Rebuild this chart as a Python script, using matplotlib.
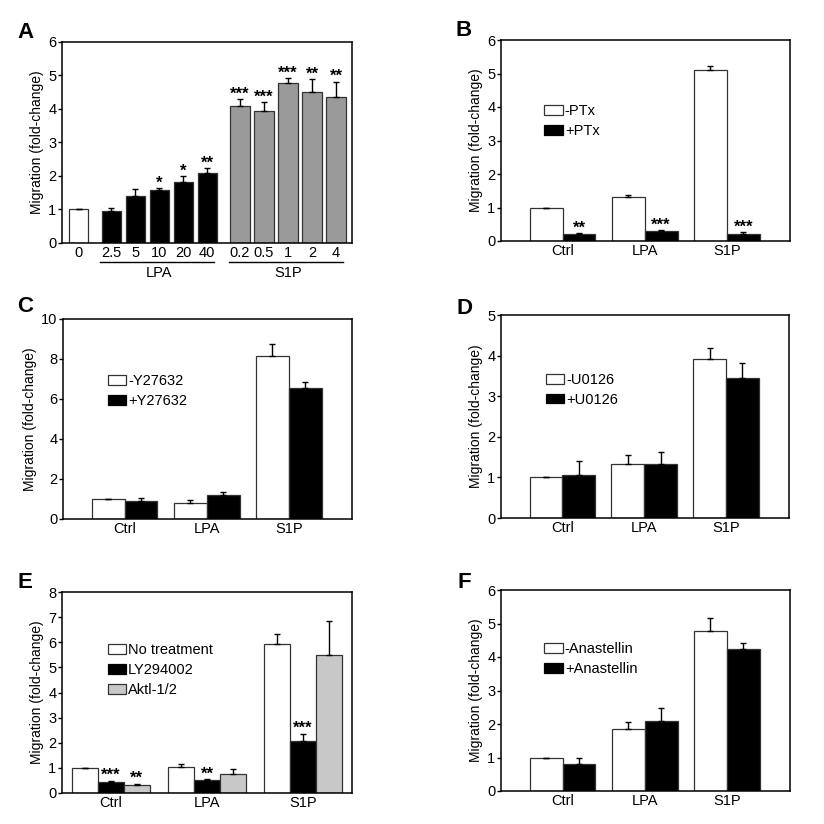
import matplotlib
matplotlib.use("Agg")
import matplotlib.pyplot as plt
import numpy as np
from matplotlib.patches import Patch

plt.rcParams['font.family'] = ['Liberation Sans', 'DejaVu Sans']
plt.rcParams['font.size'] = 9

# ---------------- Data ----------------
# Panel A
a_labels = ["0", "2.5", "5", "10", "20", "40", "0.2", "0.5", "1", "2", "4"]
a_values = [1.0, 0.95, 1.40, 1.58, 1.83, 2.10, 4.08, 3.95, 4.78, 4.50, 4.37]
a_errors = [0.0, 0.08, 0.20, 0.07, 0.17, 0.13, 0.22, 0.25, 0.14, 0.40, 0.45]
a_stars = ["", "", "", "*", "*", "**", "***", "***", "***", "**", "**"]
a_groups = ["ctrl", "LPA", "LPA", "LPA", "LPA", "LPA", "S1P", "S1P", "S1P", "S1P", "S1P"]

groups = ["Ctrl", "LPA", "S1P"]

# Panel B
b_minus = [1.0, 1.30, 5.10]
b_minus_err = [0.0, 0.08, 0.12]
b_plus = [0.20, 0.30, 0.22]
b_plus_err = [0.03, 0.03, 0.05]
b_plus_stars = ["**", "***", "***"]

# Panel C
c_minus = [1.0, 0.78, 8.15]
c_minus_err = [0.0, 0.17, 0.60]
c_plus = [0.92, 1.22, 6.55]
c_plus_err = [0.13, 0.12, 0.30]

# Panel D
d_minus = [1.0, 1.32, 3.92]
d_minus_err = [0.0, 0.22, 0.27]
d_plus = [1.05, 1.32, 3.45]
d_plus_err = [0.35, 0.30, 0.38]

# Panel E
e_none = [1.0, 1.02, 5.92]
e_none_err = [0.0, 0.13, 0.42]
e_ly = [0.45, 0.50, 2.08]
e_ly_err = [0.04, 0.05, 0.28]
e_akt = [0.30, 0.75, 5.48]
e_akt_err = [0.07, 0.20, 1.38]
e_ly_stars = ["***", "**", "***"]
e_akt_stars = ["**", "", ""]

# Panel F
f_minus = [1.0, 1.85, 4.78]
f_minus_err = [0.0, 0.20, 0.38]
f_plus = [0.82, 2.10, 4.23]
f_plus_err = [0.18, 0.38, 0.18]

W = H = 824
fig = plt.figure(figsize=(8.24, 8.24), dpi=100)

TICK_FS = 10.5
LEG_FS = 10.5


def add_ax(l, t, r, b):
    return fig.add_axes([l / W, 1 - b / H, (r - l) / W, (b - t) / H])


def style(ax, ymax, step):
    ax.set_ylim(0, ymax)
    ax.set_yticks(np.arange(0, ymax + 0.01, step))
    ax.set_yticklabels([f"{int(v)}" for v in np.arange(0, ymax + 0.01, step)])
    for s in ax.spines.values():
        s.set_linewidth(1.1)
    ax.tick_params(axis='y', direction='out', length=3, width=1, labelsize=TICK_FS, pad=1)
    ax.tick_params(axis='x', length=0, labelsize=TICK_FS, pad=2)
    ax.set_ylabel("Migration (fold-change)", fontsize=10, labelpad=3)


EKW = dict(elinewidth=1.0, capsize=2.5, capthick=1.0, ecolor='black')


def bars(ax, x, vals, errs, color, width):
    ax.bar(x, vals, width, color=color, edgecolor='#333333', linewidth=0.9,
           yerr=[np.zeros(len(errs)), errs], error_kw=EKW, zorder=2)


def stars(ax, x, vals, errs, labels, off):
    for xi, v, e, s in zip(x, vals, errs, labels):
        if s:
            ax.text(xi, v + e + off, s, ha='center', va='bottom', fontsize=12,
                    fontweight='bold')


def two_group(ax, minus, minus_err, plus, plus_err, lab_minus, lab_plus, ymax, step,
              leg_anchor):
    x = np.arange(len(groups))
    w = 0.4
    bars(ax, x - w / 2, minus, minus_err, 'white', w)
    bars(ax, x + w / 2, plus, plus_err, 'black', w)
    ax.set_xlim(-0.75, 2.77)
    ax.set_xticks(x)
    ax.set_xticklabels(groups)
    style(ax, ymax, step)
    handles = [Patch(facecolor='white', edgecolor='#333333', linewidth=0.9, label=lab_minus),
               Patch(facecolor='black', edgecolor='black', linewidth=0.9, label=lab_plus)]
    ax.legend(handles=handles, loc='upper left', bbox_to_anchor=leg_anchor, frameon=False,
              fontsize=LEG_FS, handlelength=1.25, handleheight=0.65, handletextpad=0.15,
              labelspacing=0.4, borderpad=0, borderaxespad=0)
    return x, w


# ---------- Panel A ----------
axA = add_ax(62, 42, 352, 243)
xa = np.array([0, 1.35, 2.35, 3.35, 4.35, 5.35, 6.72, 7.72, 8.72, 9.72, 10.72])
colA = {'ctrl': 'white', 'LPA': 'black', 'S1P': '#9a9a9a'}
for xi, v, e, g in zip(xa, a_values, a_errors, a_groups):
    bars(axA, [xi], [v], [e], colA[g], 0.8)
stars(axA, xa, a_values, a_errors, a_stars, -0.08)
axA.set_xlim(-0.7, 11.39)
axA.set_xticks(xa)
axA.set_xticklabels(a_labels)
style(axA, 6, 1)
trans = axA.get_xaxis_transform()
lpa_x = xa[[i for i, g in enumerate(a_groups) if g == 'LPA']]
s1p_x = xa[[i for i, g in enumerate(a_groups) if g == 'S1P']]
for xs, name in [(lpa_x, 'LPA'), (s1p_x, 'S1P')]:
    axA.plot([xs[0] - 0.45, xs[-1] + 0.3], [-0.095, -0.095], transform=trans,
             color='black', lw=1.0, clip_on=False)
    axA.text((xs[0] + xs[-1]) / 2, -0.112, name, transform=trans, ha='center', va='top',
             fontsize=TICK_FS)

# ---------- Panel B ----------
axB = add_ax(501, 40, 790, 241)
x, w = two_group(axB, b_minus, b_minus_err, b_plus, b_plus_err, '-PTx', '+PTx', 6, 1,
                 (0.15, 0.68))
stars(axB, x + w / 2, b_plus, b_plus_err, b_plus_stars, -0.08)

# ---------- Panel C ----------
axC = add_ax(63, 319, 352, 519)
two_group(axC, c_minus, c_minus_err, c_plus, c_plus_err, '-Y27632', '+Y27632', 10, 2,
          (0.155, 0.725))

# ---------- Panel D ----------
axD = add_ax(501, 315, 789, 518)
two_group(axD, d_minus, d_minus_err, d_plus, d_plus_err, '-U0126', '+U0126', 5, 1,
          (0.155, 0.715))

# ---------- Panel E ----------
axE = add_ax(62, 592, 352, 793)
xe = np.arange(len(groups))
we = 0.27
bars(axE, xe - we, e_none, e_none_err, 'white', we)
bars(axE, xe, e_ly, e_ly_err, 'black', we)
bars(axE, xe + we, e_akt, e_akt_err, '#c8c8c8', we)
stars(axE, xe, e_ly, e_ly_err, e_ly_stars, -0.1)
stars(axE, xe + we, e_akt, e_akt_err, e_akt_stars, -0.1)
axE.set_xlim(-0.51, 2.51)
axE.set_xticks(xe)
axE.set_xticklabels(groups)
style(axE, 8, 1)
hE = [Patch(facecolor='white', edgecolor='#333333', linewidth=0.9, label='No treatment'),
      Patch(facecolor='black', edgecolor='black', linewidth=0.9, label='LY294002'),
      Patch(facecolor='#c8c8c8', edgecolor='#333333', linewidth=0.9, label='Aktl-1/2')]
axE.legend(handles=hE, loc='upper left', bbox_to_anchor=(0.158, 0.745), frameon=False,
           fontsize=LEG_FS, handlelength=1.25, handleheight=0.65, handletextpad=0.15,
           labelspacing=0.4, borderpad=0, borderaxespad=0)

# ---------- Panel F ----------
axF = add_ax(501, 590, 790, 791)
two_group(axF, f_minus, f_minus_err, f_plus, f_plus_err, '-Anastellin', '+Anastellin', 6, 1,
          (0.15, 0.74))

# Panel letters
for txt, px, py in [('A', 25, 32), ('B', 464, 30), ('C', 25, 307), ('D', 464, 308),
                    ('E', 25, 583), ('F', 464, 582)]:
    fig.text(px / W, 1 - py / H, txt, fontsize=16, fontweight='bold', ha='center',
             va='center')

fig.savefig("out.png", dpi=100, facecolor='white')
